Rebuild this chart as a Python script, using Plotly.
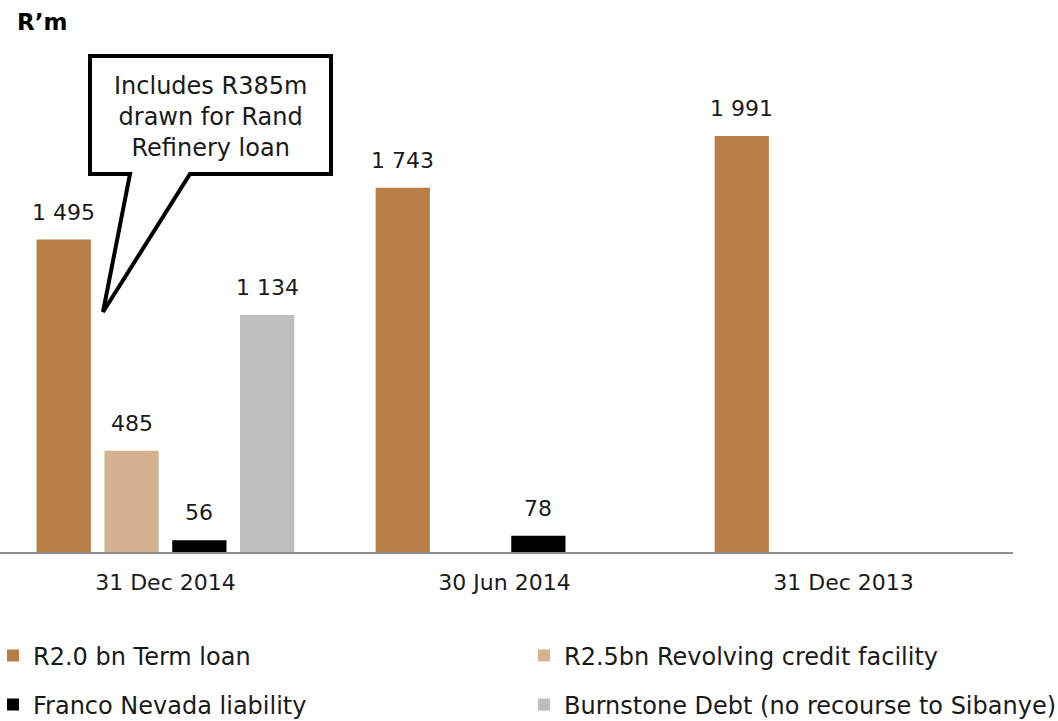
import plotly.graph_objects as go

# Borrowings by facility (R'm) at each reporting date
periods = ["31 Dec 2014", "30 Jun 2014", "31 Dec 2013"]
term_loan = [1495, 1743, 1991]
revolving_credit = [485, None, None]
franco_nevada = [56, 78, None]
burnstone_debt = [1134, None, None]

series_names = [
    "R2.0 bn Term loan",
    "R2.5bn Revolving credit facility",
    "Franco Nevada liability",
    "Burnstone Debt (no recourse to Sibanye)",
]
series_values = [term_loan, revolving_credit, franco_nevada, burnstone_debt]
series_colors = ["#B97E46", "#D6B18F", "#000000", "#BEBEBE"]

FONT = "DejaVu Sans"
TEXT = "#1a1a1a"

W, H = 1058, 721
M_L, M_R, M_T, M_B = 0, 45, 50, 169
PLOT_W = W - M_L - M_R
PLOT_H = H - M_T - M_B
X_RANGE = [-0.488, 2.5]
Y_RANGE = [0, 2402]
BARGAP = 0.2


def px_x(p):
    """Pixel column -> paper x."""
    return (p - M_L) / PLOT_W


def px_y(p):
    """Pixel row -> paper y."""
    return (H - M_B - p) / PLOT_H


# legend grid: two columns, two rows (pixel anchors)
legend_ids = ["legend", "legend2", "legend3", "legend4"]
legend_pos = [(-7, 656), (524, 656), (-7, 705), (524, 705)]

fig = go.Figure()
for name, vals, col, lid in zip(series_names, series_values, series_colors, legend_ids):
    fig.add_trace(go.Bar(
        x=periods, y=vals, name=name, marker=dict(color=col, line=dict(width=0)),
        legend=lid,
    ))

# value labels above each bar
cat_px = PLOT_W / (X_RANGE[1] - X_RANGE[0])
slot_px = (1 - BARGAP) * cat_px / len(series_values)
annotations = []
for i, vals in enumerate(series_values):
    shift = (i - (len(series_values) - 1) / 2) * slot_px
    for cat, v in zip(periods, vals):
        if v is None:
            continue
        annotations.append(dict(
            x=cat, y=v, xref="x", yref="y", text=f"{v:,}".replace(",", " "),
            showarrow=False, xshift=shift, yanchor="bottom", yshift=13,
            font=dict(family=FONT, size=22, color=TEXT),
        ))

annotations.append(dict(
    x=px_x(15), y=px_y(22), xref="paper", yref="paper", text="<b>R’m</b>",
    showarrow=False, xanchor="left", yanchor="middle",
    font=dict(family=FONT, size=23, color="#000000"),
))
annotations.append(dict(
    x=px_x(210), y=px_y(117), xref="paper", yref="paper",
    text="Includes R385m<br>drawn for Rand<br>Refinery loan",
    showarrow=False, xanchor="center", yanchor="middle", align="center",
    font=dict(family=FONT, size=24, color=TEXT),
))

# speech-bubble callout
pts = [(90, 56), (331, 56), (331, 174), (190, 174), (103, 312), (130, 174), (90, 174)]
path = "M " + " L ".join(f"{px_x(a):.5f},{px_y(b):.5f}" for a, b in pts) + " Z"
shapes = [dict(type="path", path=path, xref="paper", yref="paper",
               line=dict(color="#000000", width=4), fillcolor="#ffffff", layer="above")]

legend_common = dict(
    orientation="h", xanchor="left", yanchor="middle",
    font=dict(family=FONT, size=24, color=TEXT), bgcolor="rgba(0,0,0,0)",
    itemclick=False, itemdoubleclick=False,
)
legends = {
    lid: dict(x=px_x(lx), y=px_y(ly), **legend_common)
    for lid, (lx, ly) in zip(legend_ids, legend_pos)
}

fig.update_layout(
    width=W, height=H,
    margin=dict(l=M_L, r=M_R, t=M_T, b=M_B, autoexpand=False),
    paper_bgcolor="#ffffff", plot_bgcolor="#ffffff",
    barmode="group", bargap=BARGAP, bargroupgap=0.2,
    font=dict(family=FONT, color=TEXT),
    showlegend=True,
    xaxis=dict(
        range=X_RANGE, showgrid=False, zeroline=False, showline=True,
        linecolor="#8c8c8c", linewidth=1.5, ticks="",
        tickfont=dict(family=FONT, size=22, color=TEXT), ticklabelstandoff=10,
    ),
    yaxis=dict(range=Y_RANGE, visible=False, showgrid=False, zeroline=False),
    annotations=annotations,
    shapes=shapes,
    **legends,
)

fig.write_html("out.html")
